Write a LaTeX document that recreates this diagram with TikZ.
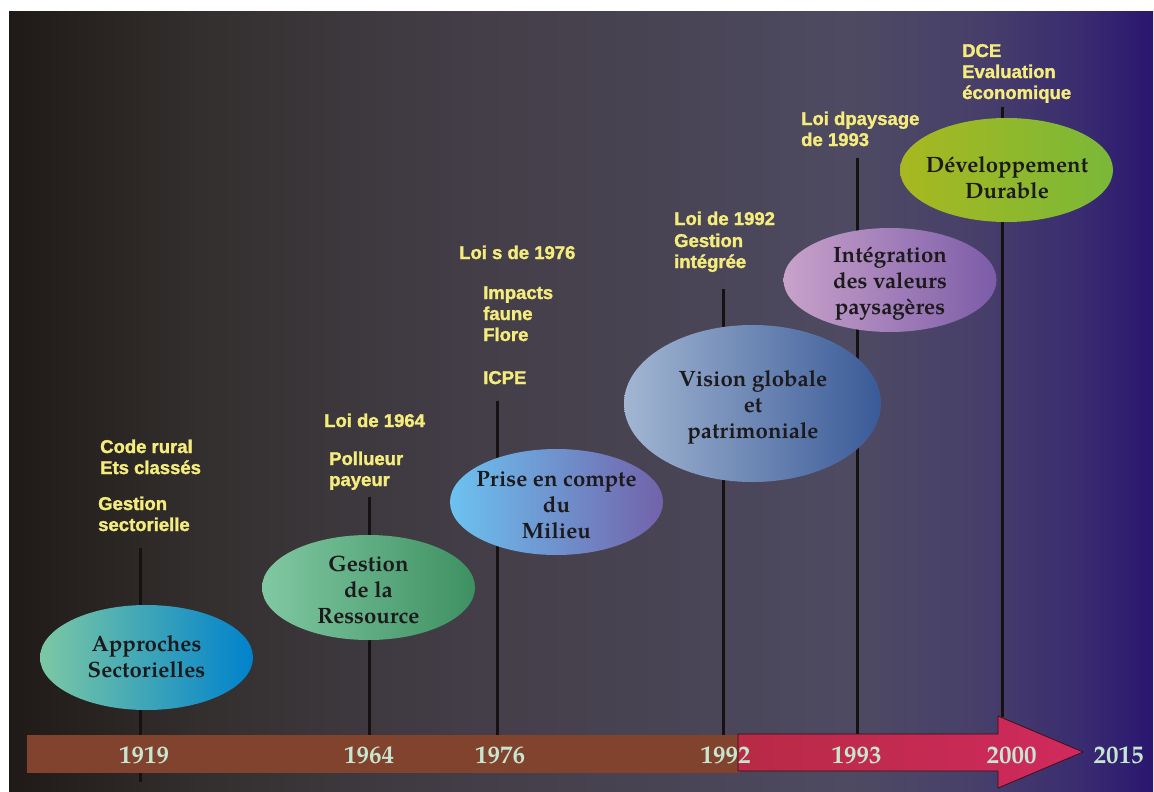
\documentclass[tikz,border=0pt]{standalone}
\usepackage{fontspec}
\setmainfont{TeX Gyre Pagella}
\newfontfamily\notefont{Liberation Sans}[BoldFeatures={FakeBold=1.6}]
\usetikzlibrary{shapes.geometric}

% panel colours, left to right
\definecolor{pA}{HTML}{1F1A17}
\definecolor{pB}{HTML}{332F2E}
\definecolor{pC}{HTML}{403B42}
\definecolor{pD}{HTML}{47424F}
\definecolor{pE}{HTML}{4E4A62}
\definecolor{pF}{HTML}{473F6A}
\definecolor{pG}{HTML}{3A2C70}
\definecolor{pH}{HTML}{2A1670}

\definecolor{tickcol}{HTML}{161212}
\definecolor{noteyellow}{HTML}{F4EC7C}
\definecolor{blobtext}{HTML}{1C1A1C}
\definecolor{yeartext}{HTML}{C6E6D0}
\definecolor{barbrown}{HTML}{82432E}
\definecolor{redA}{HTML}{B82A46}
\definecolor{redB}{HTML}{D02A5E}

% period ellipse colours (left / right)
\definecolor{apL}{HTML}{7CC8A4}\definecolor{apR}{HTML}{0082CC}
\definecolor{geL}{HTML}{80C8A2}\definecolor{geR}{HTML}{3E9062}
\definecolor{prL}{HTML}{6CC2F0}\definecolor{prR}{HTML}{7262AA}
\definecolor{viL}{HTML}{A2B6D2}\definecolor{viR}{HTML}{3A5A98}
\definecolor{inL}{HTML}{C8A2CA}\definecolor{inR}{HTML}{7C5CA8}
\definecolor{ddL}{HTML}{A8B820}\definecolor{ddR}{HTML}{7AB838}

\pgfdeclarehorizontalshading{panelshade}{100bp}{%
  color(0bp)=(pA); color(25bp)=(pA); color(33.35bp)=(pB);
  color(42.1bp)=(pC); color(50.8bp)=(pD); color(61.8bp)=(pE);
  color(67.4bp)=(pF); color(71.8bp)=(pG); color(75bp)=(pH);
  color(100bp)=(pH)}

\tikzset{
  timetick/.style={line width=3pt, draw=tickcol},
  note/.style={font=\notefont\bfseries\fontsize{18.5}{21}\selectfont,
    text=noteyellow, anchor=base west, inner sep=0pt},
  blob/.style={ellipse, inner sep=0pt, draw=none,
    minimum width=213pt, minimum height=105pt},
  blobtext/.style={font=\bfseries\fontsize{22.2}{26}\selectfont,
    text=blobtext, align=center, inner sep=0pt},
  year/.style={font=\bfseries\fontsize{25}{28}\selectfont,
    text=yeartext, anchor=base, inner sep=0pt},
}

\begin{document}
\begin{tikzpicture}[x=1pt,y=-1pt]
  \useasboundingbox (0,0) rectangle (1154,792);
  \fill[white] (0,0) rectangle (1154,792);

  % dark panel
  \shade[shading=panelshade] (9,12) rectangle (1153,792);

  % timeline ticks
  \coordinate (a1919) at (140,548);  \coordinate (b1919) at (140,782);
  \coordinate (a1964) at (369,497);  \coordinate (b1964) at (369,736);
  \coordinate (a1976) at (497,401);  \coordinate (b1976) at (497,736);
  \coordinate (a1992) at (723,289);  \coordinate (b1992) at (723,735);
  \coordinate (a1993) at (857,158);  \coordinate (b1993) at (857,735);
  \coordinate (a2000) at (1002,107); \coordinate (b2000) at (1002,717);
  \foreach \y in {1919,1964,1976,1992,1993,2000}
    \draw[timetick] (a\y) -- (b\y);

  % time bar and arrow
  \fill[barbrown] (27,735) rectangle (740,773);
  \draw[draw=black!70!redA, line width=0.7pt, left color=redA, right color=redB]
    (738,734) -- (998,734) -- (998,716) -- (1083,752) -- (998,788)
    -- (998,771) -- (738,771) -- cycle;

  % years
  \node[year] (y1919) at (144,763) {1919};
  \node[year] (y1964) at (369,763) {1964};
  \node[year] (y1976) at (500,763) {1976};
  \node[year] (y1992) at (725.5,763) {1992};
  \node[year] (y1993) at (856.5,763) {1993};
  \node[year] (y2000) at (1011.5,763) {2000};
  \node[year] (y2015) at (1118.5,763) {2015};

  % periods
  \node[blob, left color=apL, right color=apR] (approches) at (146.5,657.5) {};
  \node[blobtext] (approchesT) at (146.5,657) {Approches\\Sectorielles};

  \node[blob, left color=geL, right color=geR] (gestion) at (368.5,587.5) {};
  \node[blobtext] (gestionT) at (368.5,590) {Gestion\\de la\\Ressource};

  \node[blob, left color=prL, right color=prR, minimum height=106pt] (prise) at (556.5,502) {};
  \node[blobtext] (priseT) at (556.5,505) {Prise en compte\\du\\Milieu};

  \node[blob, left color=viL, right color=viR, minimum width=257pt, minimum height=157pt] (vision) at (752.5,403.5) {};
  \node[blobtext] (visionT) at (753,407) {Vision globale\\et\\patrimoniale};

  \node[blob, left color=inL, right color=inR, minimum height=104pt] (integ) at (890,280) {};
  \node[blobtext] (integT) at (890,284) {Intégration\\des valeurs\\paysagères};

  \node[blob, left color=ddL, right color=ddR, minimum height=104pt] (durable) at (1006.5,170) {};
  \node[blobtext] (durableT) at (1007,177.5) {Développement\\Durable};

  % notes above the ticks
  \node[note] (n1a) at (100,453) {Code rural};
  \node[note] (n1b) at (100,474) {Ets classés};
  \node[note] (n1c) at (98,510) {Gestion};
  \node[note] (n1d) at (98,531) {sectorielle};

  \node[note] (n2a) at (324,427) {Loi de 1964};
  \node[note] (n2b) at (329,465) {Pollueur};
  \node[note] (n2c) at (329,486) {payeur};

  \node[note] (n3a) at (459,259) {Loi s de 1976};
  \node[note] (n3b) at (483,299) {Impacts};
  \node[note] (n3c) at (483,320) {faune};
  \node[note] (n3d) at (483,341) {Flore};
  \node[note] (n3e) at (483,384) {ICPE};

  \node[note] (n4a) at (674,225) {Loi de 1992};
  \node[note] (n4b) at (674,247) {Gestion};
  \node[note] (n4c) at (674,268) {intégrée};

  \node[note] (n5a) at (801,125) {Loi dpaysage};
  \node[note] (n5b) at (801,146) {de 1993};

  \node[note] (n6a) at (962,57) {DCE};
  \node[note] (n6b) at (962,78) {Evaluation};
  \node[note] (n6c) at (962,99) {économique};
\end{tikzpicture}
\end{document}
